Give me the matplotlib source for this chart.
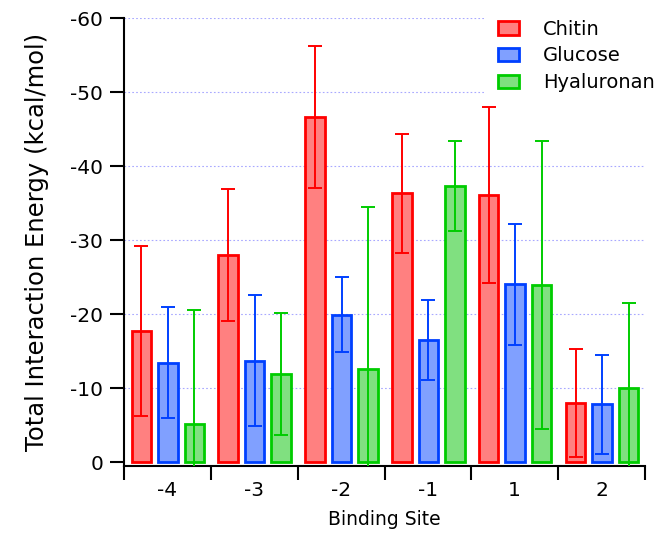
import numpy as np
from matplotlib import pyplot

sites = ['-4', '-3', '-2', '-1', '1', '2']
series = ['Chitin', 'Glucose', 'Hyaluronan']

chitin = [-17.7, -28.0, -46.6, -36.3, -36.1, -8.0]
chitin_err = [11.5, 8.9, 9.6, 8.0, 11.9, 7.3]
glucose = [-13.4, -13.7, -19.9, -16.5, -24.0, -7.8]
glucose_err = [7.5, 8.9, 5.1, 5.4, 8.2, 6.7]
hyaluronan = [-5.1, -11.9, -12.6, -37.3, -23.9, -10.0]
hyaluronan_err = [15.4, 8.2, 21.8, 6.1, 19.5, 11.5]

values = [chitin, glucose, hyaluronan]
errors = [chitin_err, glucose_err, hyaluronan_err]
edge_colors = ['#ff0000', '#0040ff', '#00cc00']
face_colors = ['#ff8080', '#80a0ff', '#80e080']

pyplot.rcParams['font.family'] = ['DejaVu Sans']

fig = pyplot.figure(figsize=(6.62, 5.36), dpi=100)
ax = fig.add_axes([124 / 662, 1 - 466 / 536, (645 - 124) / 662, (466 - 18) / 536])

x = np.arange(len(sites))
width = 0.225
offsets = [-0.3, 0.005, 0.31]

for vals, errs, ec, fc, off, name in zip(values, errors, edge_colors, face_colors, offsets, series):
    ax.bar(x + off, vals, width, color=fc, edgecolor=ec, linewidth=2.0, label=name, zorder=2)
    ax.errorbar(x + off, vals, yerr=errs, fmt='none', ecolor=ec, elinewidth=1.4,
                capsize=5, capthick=1.4, zorder=3)

ax.set_ylim(0.54, -60)
ax.set_xlim(-0.5, len(sites) - 0.5)

yt = [0, -10, -20, -30, -40, -50, -60]
ax.set_yticks(yt)
ax.set_yticklabels([str(t) for t in yt])
for t in yt:
    if t != 0:
        ax.axhline(t, color='#a8a8ff', linestyle=(0, (1.5, 2)), linewidth=0.8, zorder=0)

ax.set_xticks(x)
ax.set_xticklabels(sites)
ax.set_xticks(np.arange(len(sites) + 1) - 0.5, minor=True)
ax.tick_params(axis='x', which='major', length=0, pad=11, labelsize=14.5)
ax.tick_params(axis='x', which='minor', length=10, width=1.5, direction='out')
ax.tick_params(axis='y', length=10, width=1.5, direction='out', labelsize=14.5, pad=5)

for s in ['top', 'right']:
    ax.spines[s].set_visible(False)
ax.spines['left'].set_linewidth(1.5)
ax.spines['bottom'].set_linewidth(1.5)

ax.set_ylabel('Total Interaction Energy (kcal/mol)', fontsize=17.5, labelpad=15)
ax.set_xlabel('Binding Site', fontsize=13.5, labelpad=7)

leg = ax.legend(loc='upper left', bbox_to_anchor=(486 / 662, 1 - 8 / 536),
                bbox_transform=fig.transFigure, fontsize=14, frameon=True,
                facecolor='white', edgecolor='none', framealpha=1, fancybox=False,
                handlelength=1.1, handleheight=0.7, handletextpad=1.25,
                labelspacing=0.4, borderaxespad=0, borderpad=0.6)
leg.set_zorder(5)

fig.savefig('out.png', dpi=100)
